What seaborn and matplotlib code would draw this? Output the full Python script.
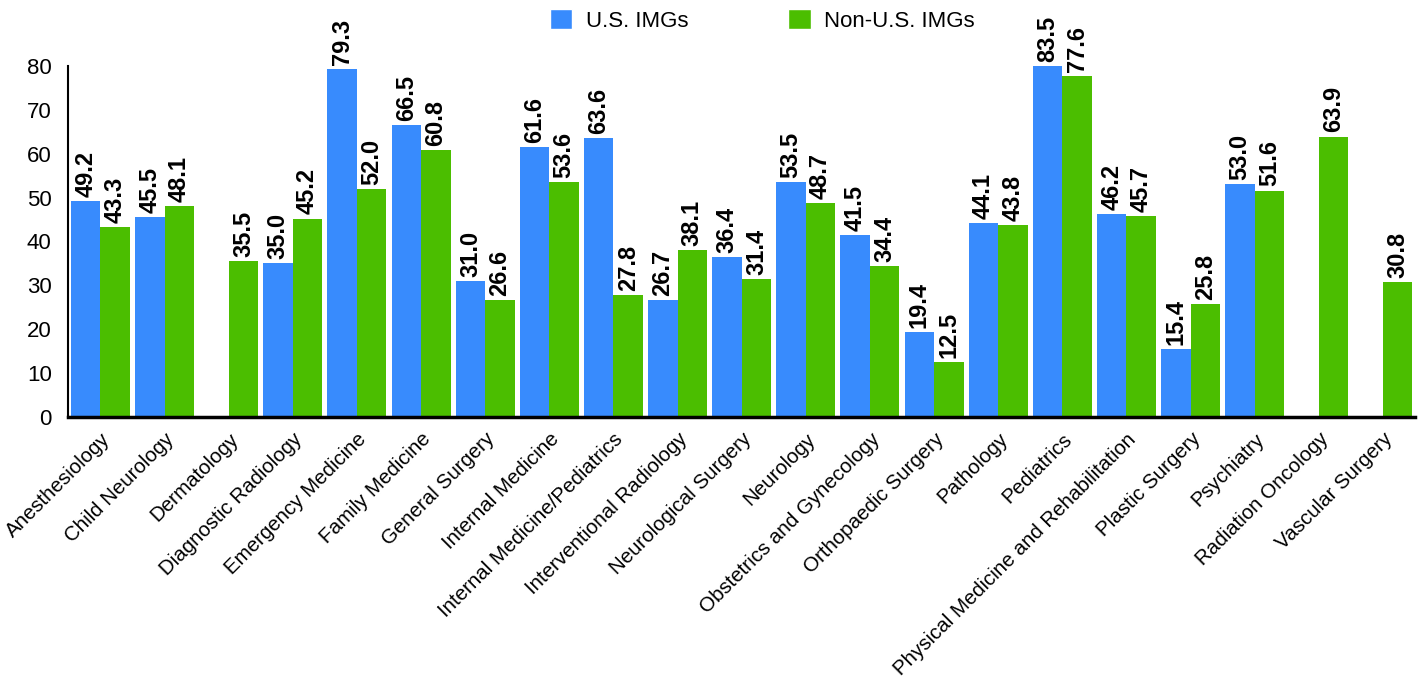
import numpy as np
import pandas as pd
import matplotlib
matplotlib.use("Agg")
import matplotlib.pyplot as plt
import seaborn as sns
from matplotlib.patches import Patch

categories = ["Anesthesiology", "Child Neurology", "Dermatology", "Diagnostic Radiology",
              "Emergency Medicine", "Family Medicine", "General Surgery", "Internal Medicine",
              "Internal Medicine/Pediatrics", "Interventional Radiology", "Neurological Surgery",
              "Neurology", "Obstetrics and Gynecology", "Orthopaedic Surgery", "Pathology",
              "Pediatrics", "Physical Medicine and Rehabilitation", "Plastic Surgery",
              "Psychiatry", "Radiation Oncology", "Vascular Surgery"]
us_imgs = [49.2, 45.5, np.nan, 35.0, 79.3, 66.5, 31.0, 61.6, 63.6, 26.7, 36.4, 53.5,
           41.5, 19.4, 44.1, 83.5, 46.2, 15.4, 53.0, np.nan, np.nan]
non_us_imgs = [43.3, 48.1, 35.5, 45.2, 52.0, 60.8, 26.6, 53.6, 27.8, 38.1, 31.4, 48.7,
               34.4, 12.5, 43.8, 77.6, 45.7, 25.8, 51.6, 63.9, 30.8]
series_names = ["U.S. IMGs", "Non-U.S. IMGs"]
colors = ["#388bfd", "#4bbe00"]

df = pd.DataFrame({
    "Specialty": categories * 2,
    "Series": [series_names[0]] * len(categories) + [series_names[1]] * len(categories),
    "Value": us_imgs + non_us_imgs,
})

sns.set_style("white")
plt.rcParams["font.family"] = ["Liberation Sans", "DejaVu Sans"]
plt.rcParams["text.color"] = "black"
plt.rcParams["xtick.color"] = "black"
plt.rcParams["ytick.color"] = "black"

fig = plt.figure(figsize=(14.25, 6.87), dpi=100)
ax = fig.add_axes([0.048, 0.393, 0.945, 0.511])

sns.barplot(data=df, x="Specialty", y="Value", hue="Series", hue_order=series_names,
            palette=colors, width=0.92, gap=0, saturation=1, ax=ax, legend=False,
            errorbar=None, linewidth=0, edgecolor="none")

ymax = 80
ax.set_ylim(0, ymax)
ax.set_xlim(-0.5, len(categories) - 0.5)
ax.set_yticks(range(0, 81, 10))
ax.tick_params(axis="y", labelsize=16, length=0, pad=12, labelcolor="black")
ax.tick_params(axis="x", labelsize=14.8, length=0, pad=9, labelcolor="black")
ax.set_xticks(range(len(categories)))
ax.set_xticklabels(categories, rotation=45, ha="right", rotation_mode="anchor")
ax.set_xlabel("")
ax.set_ylabel("")
for s in ["top", "right"]:
    ax.spines[s].set_visible(False)
ax.spines["left"].set_color("black")
ax.spines["left"].set_linewidth(1.5)
ax.spines["bottom"].set_color("black")
ax.spines["bottom"].set_linewidth(2.5)

for container in ax.containers:
    for bar in container:
        h = bar.get_height()
        if np.isnan(h) or h == 0:
            continue
        xc = bar.get_x() + bar.get_width() / 2
        ax.annotate(f"{h:.1f}", (xc, min(h, ymax)), xytext=(0, 3), textcoords="offset points",
                    rotation=90, ha="center", va="bottom", fontsize=17, fontweight="bold",
                    color="black", annotation_clip=False)

handles = [Patch(facecolor=c, label=n) for c, n in zip(colors, series_names)]
fig.legend(handles=handles, loc="center", bbox_to_anchor=(0.535, 0.97), ncol=2, frameon=False,
           fontsize=16, handlelength=1.0, handleheight=1.0, columnspacing=4.5, handletextpad=0.6,
           labelcolor="black")

fig.savefig("out.png", dpi=100)
